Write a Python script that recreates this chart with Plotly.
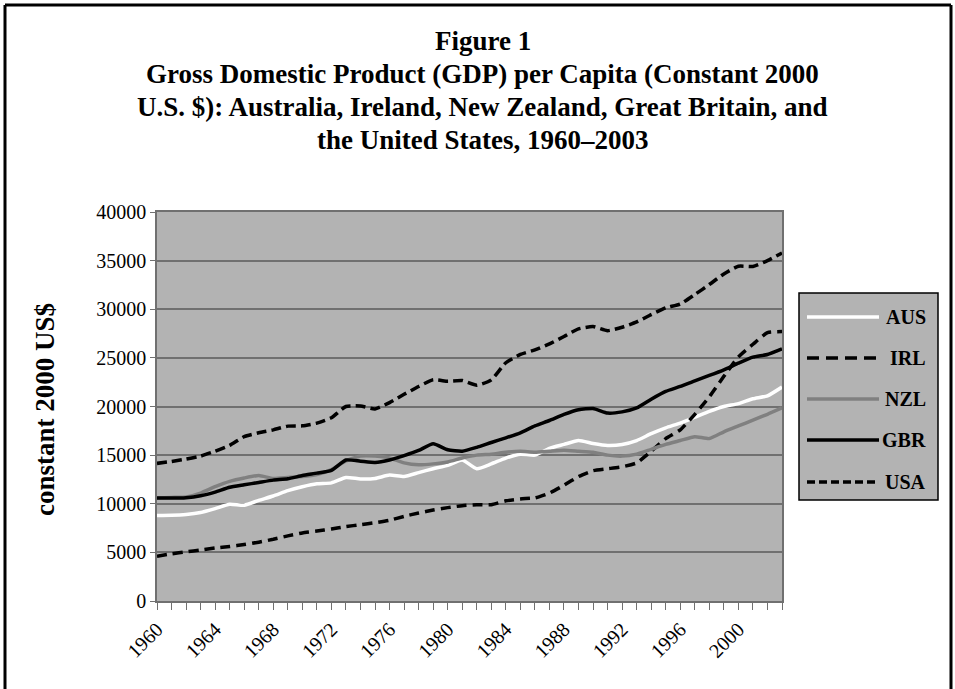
import plotly.graph_objects as go

years = list(range(1960, 2004))

aus = [8800, 8820, 8900, 9100, 9500, 9950, 9850, 10350, 10800, 11350,
       11750, 12050, 12150, 12700, 12550, 12600, 12950, 12800, 13200, 13600,
       13950, 14500, 13600, 14100, 14700, 15100, 15000, 15700, 16100, 16500,
       16200, 16000, 16100, 16500, 17200, 17800, 18300, 18900, 19500, 20000,
       20300, 20800, 21100, 22000]
irl = [4600, 4850, 5050, 5250, 5450, 5600, 5800, 6050, 6350, 6700,
       7000, 7200, 7400, 7650, 7850, 8050, 8300, 8700, 9050, 9350,
       9600, 9800, 9900, 9900, 10300, 10500, 10600, 11100, 11900, 12800,
       13400, 13600, 13800, 14200, 15400, 16700, 17600, 19200, 21000, 23100,
       25100, 26400, 27600, 27700]
nzl = [10600, 10650, 10700, 11100, 11750, 12300, 12650, 12900, 12600, 12700,
       12800, 13000, 13500, 14400, 14900, 14900, 14700, 14200, 14000, 14100,
       14300, 14700, 15000, 15100, 15300, 15400, 15300, 15400, 15500, 15400,
       15300, 15000, 14900, 15100, 15600, 16100, 16500, 16900, 16700, 17400,
       18000, 18600, 19200, 19850]
gbr = [10600, 10580, 10620, 10820, 11200, 11700, 11950, 12190, 12430, 12570,
       12900, 13150, 13430, 14500, 14380, 14250, 14500, 14950, 15480, 16170,
       15550, 15400, 15800, 16300, 16780, 17300, 18000, 18560, 19180, 19660,
       19800, 19320, 19450, 19860, 20750, 21550, 22060, 22640, 23190, 23770,
       24450, 25070, 25350, 25930]
usa = [14150, 14350, 14600, 14900, 15400, 16000, 16900, 17300, 17600, 17980,
       18010, 18290, 18840, 20000, 20050, 19750, 20400, 21250, 22060, 22740,
       22600, 22670, 22190, 22740, 24500, 25350, 25820, 26440, 27200, 27980,
       28220, 27800, 28150, 28700, 29450, 30140, 30550, 31510, 32540, 33630,
       34420, 34400, 35000, 35790]

names = ["AUS", "IRL", "NZL", "GBR", "USA"]
series = [aus, irl, nzl, gbr, usa]
colors = ["#FFFFFF", "#000000", "#808080", "#000000", "#000000"]
dashes = ["solid", "10px,6px", "solid", "solid", "10px,5px"]
legend_dashes = ["solid", "12px,7px", "solid", "solid", "8px,4px"]

title_lines = [
    "Figure 1",
    "Gross Domestic Product (GDP) per Capita (Constant 2000",
    "U.S. $): Australia, Ireland, New Zealand, Great Britain, and",
    "the United States, 1960\u20132003",
]
y_title = "constant 2000 US$"
x_tick_years = list(range(1960, 2001, 4))

SERIF = "Liberation Serif"
W, H = 955, 689
ML, MR, MT, MB = 157, 173, 212, 88
PW, PH = W - ML - MR, H - MT - MB


def px(x):
    return (x - ML) / PW


def py(y):
    return (H - MB - y) / PH


fig = go.Figure()
for name, vals, col, dash in zip(names, series, colors, dashes):
    fig.add_trace(go.Scatter(
        x=years, y=vals, mode="lines", name=name,
        line=dict(color=col, width=3.5, dash=dash, shape="spline", smoothing=0.5),
        showlegend=False, hoverinfo="skip",
    ))

shapes = []
annotations = []

# outer frame
shapes.append(dict(type="line", xref="paper", yref="paper",
                   x0=px(5), x1=px(951), y0=py(5), y1=py(5),
                   line=dict(color="black", width=3)))
shapes.append(dict(type="line", xref="paper", yref="paper",
                   x0=px(5), x1=px(5), y0=py(5), y1=py(H + 10),
                   line=dict(color="black", width=3)))
shapes.append(dict(type="line", xref="paper", yref="paper",
                   x0=px(951), x1=px(951), y0=py(5), y1=py(H + 10),
                   line=dict(color="black", width=3)))

# title
for i, (txt, yc) in enumerate(zip(title_lines, [41, 74, 107, 140])):
    annotations.append(dict(text=f"<b>{txt}</b>", xref="paper", yref="paper",
                            x=px(483), y=py(yc), showarrow=False,
                            xanchor="center", yanchor="middle",
                            font=dict(family=SERIF, size=27, color="black")))

# y axis title
annotations.append(dict(text=f"<b>{y_title}</b>", xref="paper", yref="paper",
                        x=px(45), y=py(410), showarrow=False, textangle=-90,
                        xanchor="center", yanchor="middle",
                        font=dict(family=SERIF, size=27, color="black")))

# legend box
shapes.append(dict(type="rect", xref="paper", yref="paper",
                   x0=px(799), x1=px(938), y0=py(500), y1=py(293),
                   fillcolor="#B3B3B3", line=dict(color="black", width=1.5),
                   layer="above"))
for name, col, dash, yc in zip(names, colors, legend_dashes, [317, 358, 399, 440, 482]):
    shapes.append(dict(type="line", xref="paper", yref="paper",
                       x0=px(807), x1=px(879), y0=py(yc), y1=py(yc),
                       line=dict(color=col, width=3.5, dash=dash), layer="above"))
    annotations.append(dict(text=f"<b>{name}</b>", xref="paper", yref="paper",
                            x=px(928), y=py(yc), showarrow=False,
                            xanchor="right", yanchor="middle",
                            font=dict(family=SERIF, size=20, color="black")))

fig.update_layout(
    width=W, height=H,
    margin=dict(l=ML, r=MR, t=MT, b=MB, pad=0),
    paper_bgcolor="white", plot_bgcolor="#B3B3B3",
    font=dict(family=SERIF, size=20, color="black"),
    shapes=shapes, annotations=annotations,
    showlegend=False,
)
fig.update_xaxes(
    range=[1960, 2003], showgrid=False, zeroline=False,
    tickmode="array", tickvals=x_tick_years, ticktext=[str(v) for v in x_tick_years],
    tickangle=-45, ticks="outside", ticklen=7, tickcolor="#707070", tickwidth=1,
    minor=dict(dtick=1, tick0=1960, ticks="outside", ticklen=7, tickcolor="#707070", tickwidth=1, showgrid=False),
    showline=True, linecolor="#707070", linewidth=1.5, mirror=True,
    tickfont=dict(family=SERIF, size=20, color="black"),
)
fig.update_yaxes(
    range=[0, 40000], dtick=5000, tick0=0, tickformat="d",
    showgrid=True, gridcolor="#707070", gridwidth=1.5, zeroline=False,
    ticks="outside", ticklen=5, tickcolor="#707070",
    showline=True, linecolor="#707070", linewidth=1.5, mirror=True,
    tickfont=dict(family=SERIF, size=20, color="black"),
)

fig.write_html(
    "out.html",
    config={"displayModeBar": False},
    post_script="document.body.style.margin='0';document.body.style.overflow='hidden';",
)
